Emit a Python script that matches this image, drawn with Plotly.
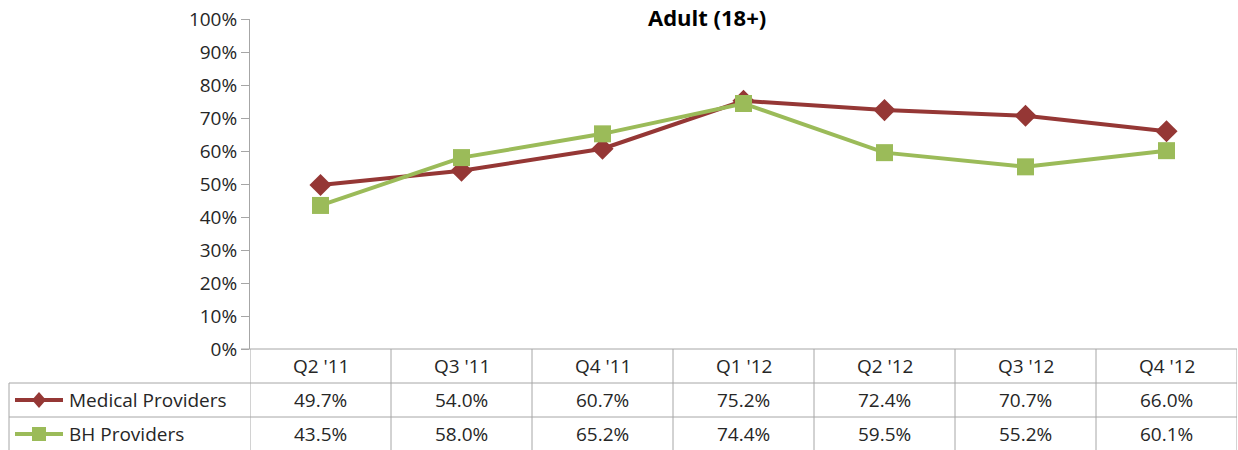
import plotly.graph_objects as go

categories = ["Q2 '11", "Q3 '11", "Q4 '11", "Q1 '12", "Q2 '12", "Q3 '12", "Q4 '12"]
medical = [49.7, 54.0, 60.7, 75.2, 72.4, 70.7, 66.0]
bh = [43.5, 58.0, 65.2, 74.4, 59.5, 55.2, 60.1]
series_names = ["Medical Providers", "BH Providers"]
colors = ["#953735", "#9BBB59"]
yticks = list(range(0, 101, 10))
title = "Adult (18+)"

W, H = 1238, 450
L, R, T, B = 250, 1, 19, 101
plot_h = H - T - B
FONT = "Open Sans"
GRID = "#A6A6A6"
TXT = "#262626"

def py(px):  # pixel y -> paper y
    return (H - B - px) / plot_h

def pxx(px):  # pixel x -> paper x
    return (px - L) / (W - L - R)

fig = go.Figure()
fig.add_trace(go.Scatter(x=categories, y=medical, mode="lines+markers", name=series_names[0],
                         line=dict(color=colors[0], width=4),
                         marker=dict(symbol="diamond", size=17, color=colors[0])))
fig.add_trace(go.Scatter(x=categories, y=bh, mode="lines+markers", name=series_names[1],
                         line=dict(color=colors[1], width=4),
                         marker=dict(symbol="square", size=17, color=colors[1])))

shapes = []
annotations = []
n = len(categories)
shapes.append(dict(type="line", xref="paper", yref="paper", x0=pxx(241), x1=1, y0=0, y1=0,
                   line=dict(color=GRID, width=1)))
for yy in (383, 417):
    shapes.append(dict(type="line", xref="paper", yref="paper", x0=pxx(9), x1=1, y0=py(yy), y1=py(yy),
                       line=dict(color=GRID, width=1)))
for i in range(n + 1):
    shapes.append(dict(type="line", xref="x", yref="paper", x0=i - 0.5, x1=i - 0.5, y0=0, y1=py(452),
                       line=dict(color=GRID, width=1)))
shapes.append(dict(type="line", xref="paper", yref="paper", x0=pxx(9), x1=pxx(9), y0=py(383), y1=py(452),
                   line=dict(color=GRID, width=1)))

tfont = dict(family=FONT, size=19, color=TXT)
row_centers = [366, 400, 434]
for i, c in enumerate(categories):
    annotations.append(dict(x=c, y=py(row_centers[0]), xref="x", yref="paper", text=c,
                            showarrow=False, font=tfont, xanchor="center", yanchor="middle"))
    for r, vals in enumerate([medical, bh]):
        annotations.append(dict(x=c, y=py(row_centers[r + 1]), xref="x", yref="paper",
                                text=f"{vals[i]:.1f}%", showarrow=False, font=tfont,
                                xanchor="center", yanchor="middle"))
for r, (name, col) in enumerate(zip(series_names, colors)):
    yc = py(row_centers[r + 1])
    shapes.append(dict(type="line", xref="paper", yref="paper", x0=pxx(15), x1=pxx(63), y0=yc, y1=yc,
                       line=dict(color=col, width=4)))
    annotations.append(dict(x=pxx(67), y=yc, xref="paper", yref="paper", text=name, showarrow=False,
                            font=tfont, xanchor="left", yanchor="middle"))

shapes.append(dict(type="path", xref="paper", yref="paper",
                   path=f"M {pxx(32)} {py(400)} L {pxx(39)} {py(392)} L {pxx(46)} {py(400)} L {pxx(39)} {py(408)} Z",
                   fillcolor=colors[0], line=dict(width=0)))
shapes.append(dict(type="rect", xref="paper", yref="paper", x0=pxx(32), x1=pxx(46), y0=py(441), y1=py(427),
                   fillcolor=colors[1], line=dict(width=0)))

annotations.append(dict(x=pxx(707), y=py(0), xref="paper", yref="paper", text=f"<b>{title}</b>",
                        showarrow=False, font=dict(family=FONT, size=22, color="#000000"),
                        xanchor="center", yanchor="top"))

fig.update_layout(
    width=W, height=H, margin=dict(l=L, r=R, t=T, b=B),
    paper_bgcolor="white", plot_bgcolor="white", showlegend=False,
    shapes=shapes, annotations=annotations,
    xaxis=dict(type="category", range=[-0.5, n - 0.5], showticklabels=False, showgrid=False,
               zeroline=False, showline=False, ticks=""),
    yaxis=dict(range=[0, 100], tickvals=yticks, ticktext=[f"{v}%" for v in yticks],
               showgrid=False, zeroline=False, showline=True, linecolor=GRID, linewidth=1,
               ticks="outside", ticklen=8, tickcolor=GRID,
               tickfont=dict(family=FONT, size=19, color=TXT)),
)
fig.write_html("out.html", post_script="document.body.style.margin='0';",
               config={"displayModeBar": False})
